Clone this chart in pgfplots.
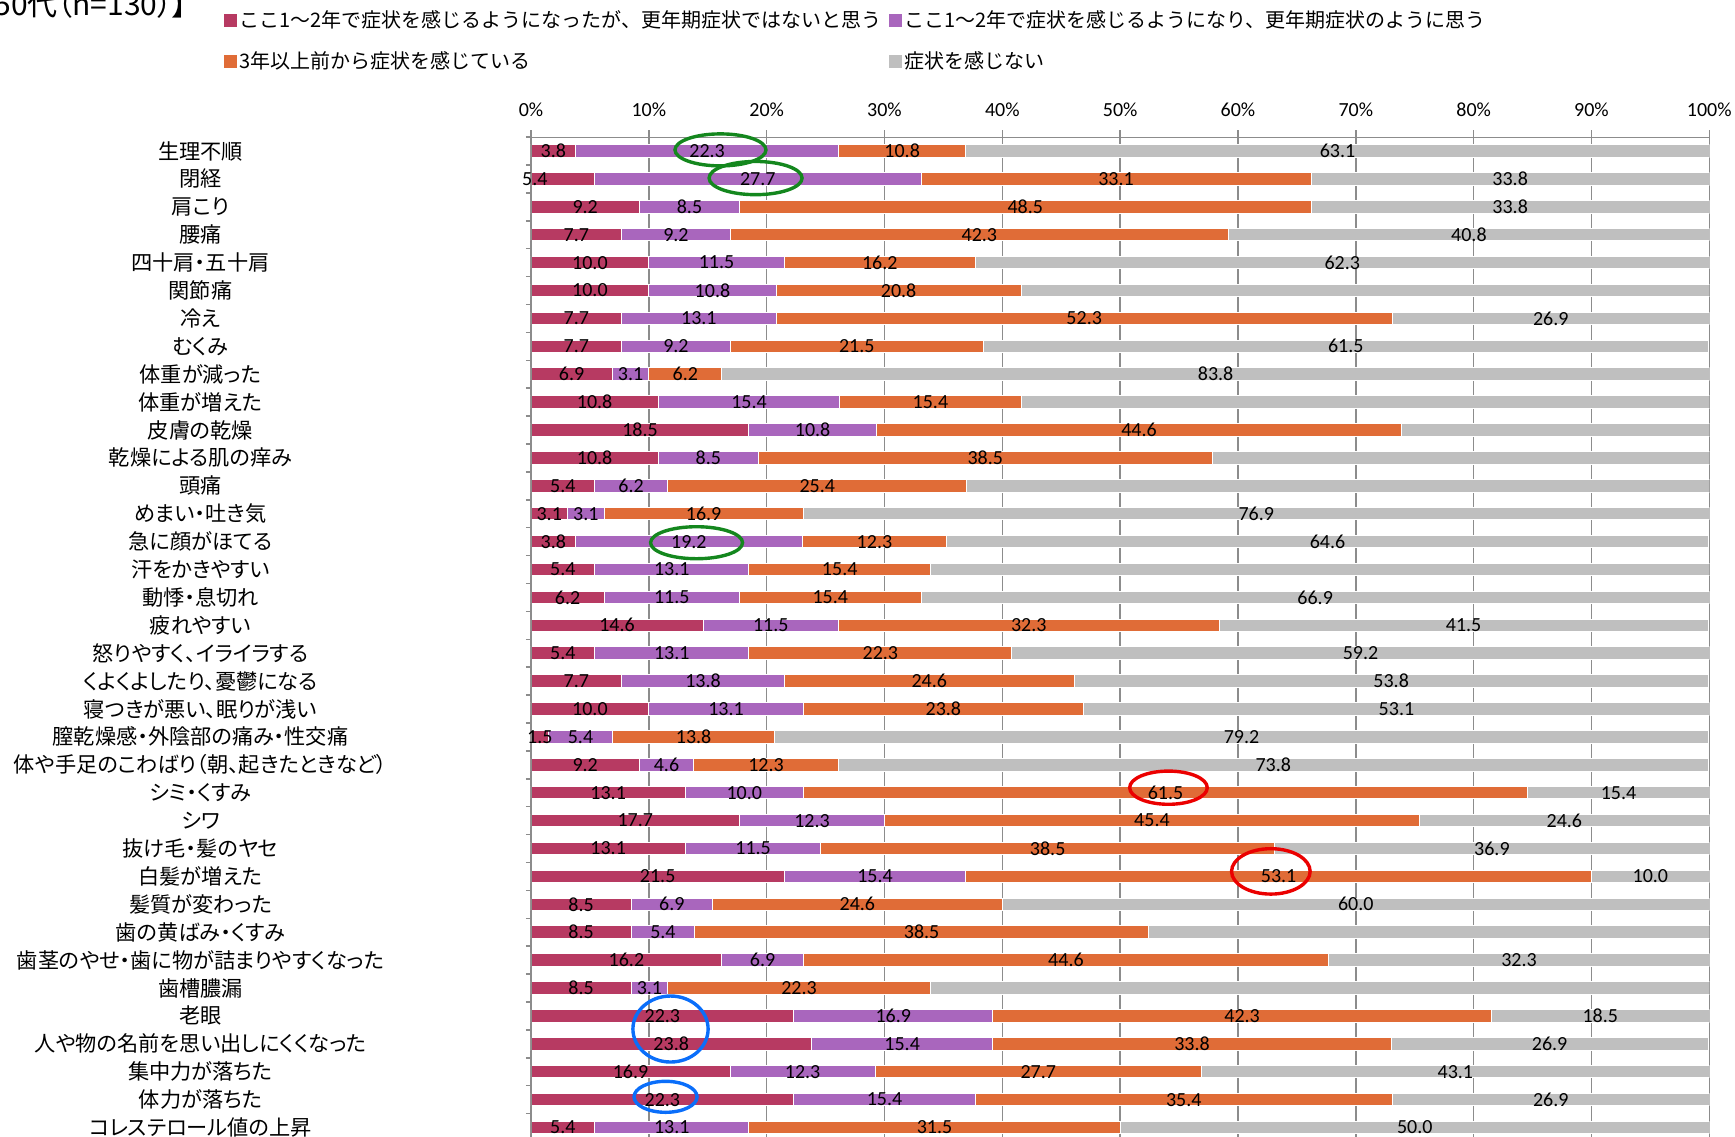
\documentclass[border=0pt]{standalone}
\usepackage{fontspec}
\usepackage{pgfplots}
\usepackage{pgfplotstable}
\pgfplotsset{compat=1.18}
\setmainfont{Carlito}
\newfontfamily\jp{Noto Sans CJK JP}
\newfontfamily\jpp[RawFeature=+palt]{Noto Sans CJK JP}

\definecolor{c1}{HTML}{B73A62}
\definecolor{c2}{HTML}{A966BD}
\definecolor{c3}{HTML}{E06C37}
\definecolor{c4}{HTML}{BFBFBF}
\definecolor{gridgray}{HTML}{8C8C8C}
\definecolor{ringgreen}{RGB}{20,135,30}
\definecolor{ringred}{RGB}{235,0,0}
\definecolor{ringblue}{RGB}{10,110,250}

% share of respondents (%) per symptom:
% a = began 1-2 years ago, not menopausal; b = began 1-2 years ago, menopausal;
% c = felt for 3+ years; d = no symptom
% off = extra label shift (pt) for column a, z = no shift
\pgfplotstableread{
idx a    b    c    d    off z
1   3.8  22.3 10.8 63.1 0   0
2   5.4  27.7 33.1 33.8 -14 0
3   9.2  8.5  48.5 33.8 0   0
4   7.7  9.2  42.3 40.8 0   0
5   10.0 11.5 16.2 62.3 0   0
6   10.0 10.8 20.8 58.5 0   0
7   7.7  13.1 52.3 26.9 0   0
8   7.7  9.2  21.5 61.5 0   0
9   6.9  3.1  6.2  83.8 0   0
10  10.8 15.4 15.4 58.5 0   0
11  18.5 10.8 44.6 26.2 0   0
12  10.8 8.5  38.5 42.3 0   0
13  5.4  6.2  25.4 63.1 0   0
14  3.1  3.1  16.9 76.9 0   0
15  3.8  19.2 12.3 64.6 0   0
16  5.4  13.1 15.4 66.2 0   0
17  6.2  11.5 15.4 66.9 0   0
18  14.6 11.5 32.3 41.5 0   0
19  5.4  13.1 22.3 59.2 0   0
20  7.7  13.8 24.6 53.8 0   0
21  10.0 13.1 23.8 53.1 0   0
22  1.5  5.4  13.8 79.2 0   0
23  9.2  4.6  12.3 73.8 0   0
24  13.1 10.0 61.5 15.4 0   0
25  17.7 12.3 45.4 24.6 0   0
26  13.1 11.5 38.5 36.9 0   0
27  21.5 15.4 53.1 10.0 0   0
28  8.5  6.9  24.6 60.0 0   0
29  8.5  5.4  38.5 47.7 0   0
30  16.2 6.9  44.6 32.3 0   0
31  8.5  3.1  22.3 66.2 0   0
32  22.3 16.9 42.3 18.5 0   0
33  23.8 15.4 33.8 26.9 0   0
34  16.9 12.3 27.7 43.1 0   0
35  22.3 15.4 35.4 26.9 0   0
36  5.4  13.1 31.5 50.0 0   0
}\data

\pgfplotsset{
  seg/.style n args={2}{% colour, label shift column
    fill=#1, draw=white, line width=0.5pt,
    point meta=explicit,
    nodes near coords={\pgfmathprintnumber[fixed,fixed zerofill,precision=1,assume math mode=true]{\pgfplotspointmeta}},
    visualization depends on={\thisrow{#2} \as \segoff},
  },
}
\tikzset{ring/.style={line width=1.7pt}}

\begin{document}
\begin{tikzpicture}
\path[use as bounding box] (0,0) rectangle (867.5pt,-568pt);

\node[anchor=base east, inner sep=0pt, font=\jpp\fontsize{15}{16}\selectfont] at (94pt,-7.5pt) {【50代（n=130）】};

\begin{axis}[
  at={(265.5pt,-68.525pt)}, anchor=north west,
  scale only axis, width=589.15pt, height=502.2pt,
  xbar stacked, bar width=6.25pt,
  xmin=0, xmax=100, ymin=0.5, ymax=36.5, y dir=reverse,
  axis line style={draw=none},
  xtick={0,10,...,100},
  xticklabel={\pgfmathprintnumber[assume math mode=true]{\tick}\%},
  xticklabel style={font=\fontsize{10}{10}\selectfont, yshift=3.3pt},
  xtick pos=right, xticklabel pos=right,
  xmajorgrids, grid style={draw=gridgray, line width=0.75pt},
  major x tick style={draw=gridgray, line width=0.75pt},
  tick align=outside, major tick length=3.5pt,
  ytick={1,...,36},
  ytick pos=left,
  major y tick style={draw=none},
  minor ytick={0.5,1.5,...,36.5},
  minor y tick style={draw=gridgray, line width=0.75pt},
  minor tick length=2.5pt,
  yticklabels={{生理不順},{閉経},{肩こり},{腰痛},{四十肩・五十肩},{関節痛},{冷え},{むくみ},{体重が減った},{体重が増えた},{皮膚の乾燥},{乾燥による肌の痒み},{頭痛},{めまい・吐き気},{急に顔がほてる},{汗をかきやすい},{動悸・息切れ},{疲れやすい},{怒りやすく、イライラする},{くよくよしたり、憂鬱になる},{寝つきが悪い、眠りが浅い},{膣乾燥感・外陰部の痛み・性交痛},{体や手足のこわばり（朝、起きたときなど）},{シミ・くすみ},{シワ},{抜け毛・髪のヤセ},{白髪が増えた},{髪質が変わった},{歯の黄ばみ・くすみ},{歯茎のやせ・歯に物が詰まりやすくなった},{歯槽膿漏},{老眼},{人や物の名前を思い出しにくくなった},{集中力が落ちた},{体力が落ちた},{コレステロール値の上昇}},
  yticklabel style={font=\jpp\fontsize{10.6}{10.6}\selectfont, anchor=center, xshift=-161.75pt},
  % value labels sit in the middle of each segment
  every node near coord/.append style={font=\fontsize{10}{10}\selectfont, text=black,
      anchor=center, inner sep=0pt, xshift=\segoff pt},
  legend image code/.code={\path[#1, draw=none] (0pt,-3.25pt) rectangle (6.5pt,3.25pt);},
  legend style={at={(axis description cs:-0.2605,1.1282)}, anchor=north west,
    draw=none, fill=none, legend columns=2, inner sep=0pt, row sep=8.3pt,
    font=\jp\fontsize{10}{12}\selectfont, nodes={inner sep=1pt}},
  legend cell align=left,
]
% axis lines along the top and the left edge
\draw[gridgray, line width=1pt] (axis description cs:0,1) -- (axis description cs:1,1);
\draw[gridgray, line width=1pt] (axis description cs:0,1) -- (axis description cs:0,0);

\addplot[seg={c1}{off}] table[x=a, y=idx, meta=a] {\data};
\addlegendentry{\makebox[324pt][l]{ここ1～2年で症状を感じるようになったが、更年期症状ではないと思う}}
\addplot[seg={c2}{z}] table[x=b, y=idx, meta=b] {\data};
\addlegendentry{ここ1～2年で症状を感じるようになり、更年期症状のように思う}
\addplot[seg={c3}{z}] table[x=c, y=idx, meta=c] {\data};
\addlegendentry{\makebox[324pt][l]{3年以上前から症状を感じている}}
\addplot[seg={c4}{z}] table[x=d, y=idx, meta=d] {\data};
\addlegendentry{症状を感じない}

% centres of the highlight rings
\coordinate (g1) at (axis cs:16.08,0.96);
\coordinate (g2) at (axis cs:19.06,1.97);
\coordinate (g3) at (axis cs:14.05,15.04);
\coordinate (r1) at (axis cs:54.1,23.82);
\coordinate (r2) at (axis cs:62.79,26.82);
\coordinate (b1) at (axis cs:11.84,32.47);
\coordinate (b2) at (axis cs:11.42,34.9);
\end{axis}

% highlight rings
\draw[ringgreen, ring] (g1) ellipse [x radius=22.75pt, y radius=8pt];
\draw[ringgreen, ring] (g2) ellipse [x radius=23.25pt, y radius=8.3pt];
\draw[ringgreen, ring] (g3) ellipse [x radius=23pt, y radius=8pt];
\draw[ringred, ring] (r1) ellipse [x radius=19.4pt, y radius=8.3pt];
\draw[ringred, ring] (r2) ellipse [x radius=19.65pt, y radius=11.35pt];
\draw[ringblue, ring] (b1) ellipse [x radius=18.8pt, y radius=16.5pt];
\draw[ringblue, ring] (b2) ellipse [x radius=15.75pt, y radius=7.75pt];
\end{tikzpicture}
\end{document}
